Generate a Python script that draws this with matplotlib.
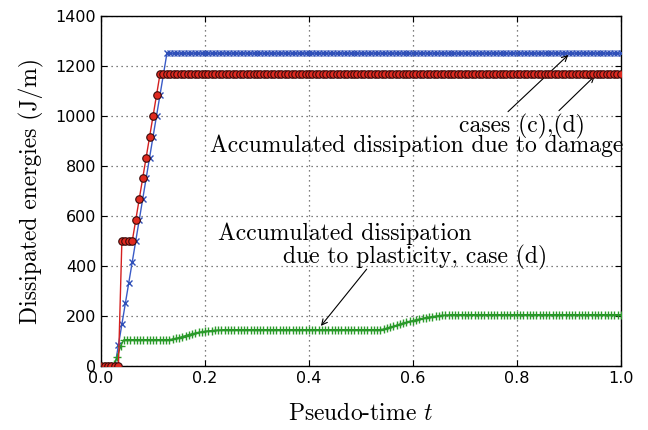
import numpy as np
import matplotlib
matplotlib.use("Agg")
import matplotlib.pyplot as plt

plt.rcParams['mathtext.fontset'] = 'cm'

# ---- data ----
# damage dissipation, case (c) (blue, x markers), time step 1/150
blue_dt = 1.0 / 150
blue_vals = ([0.0] * 5
             + [83, 167, 250, 333, 417, 500, 583, 667, 750, 833, 917, 1000, 1083, 1167]
             + [1250] * 132)

# damage dissipation, case (d) (red, circle markers), time step 1/150
red_dt = 1.0 / 150
red_vals = ([0.0] * 6
            + [500, 500, 500, 500]
            + [583, 667, 750, 833, 917, 1000, 1083]
            + [1167] * 134)

# plastic dissipation, case (d) (green, + markers), time step 1/160
green_dt = 1.0 / 160
green_vals = ([0.0] * 4
              + [8, 35, 80, 104]
              + [105] * 14
              + [107, 110, 113, 117, 121, 125, 128, 131, 134, 136, 138, 140, 141, 142, 143, 144]
              + [145] * 49
              + [147, 150, 154, 158, 162, 166, 170, 174, 178, 181, 184, 187, 190, 193,
                 195, 197, 199, 201, 202, 203, 204]
              + [205] * 53)

x_ticks = [0.0, 0.2, 0.4, 0.6, 0.8, 1.0]
y_ticks = [0, 200, 400, 600, 800, 1000, 1200, 1400]

t_blue = np.arange(len(blue_vals)) * blue_dt
t_red = np.arange(len(red_vals)) * red_dt
t_green = np.arange(len(green_vals)) * green_dt

fig = plt.figure(figsize=(6.48, 4.30), dpi=100)
ax = fig.add_axes([0.156, 0.149, 0.802, 0.814])

ax.plot(t_blue, blue_vals, color='#3a5bc7', lw=1.0, marker='x', ms=4.5, mew=1.0,
        mec='#3050b8', zorder=3)
ax.plot(t_red, red_vals, color='#d42020', lw=1.0, marker='o', ms=5.4, mew=0.8,
        mfc='#e02a20', mec='#3a0a0a', zorder=4)
ax.plot(t_green, green_vals, color='#1f8f1f', lw=1.0, marker='+', ms=6, mew=1.0,
        mec='#2a9a2a', zorder=3)

ax.set_xlim(0, 1.0)
ax.set_ylim(0, 1400)
ax.set_xticks(x_ticks)
ax.set_yticks(y_ticks)
ax.tick_params(direction='in', top=True, right=True, labelsize=11.5, length=4)
ax.grid(True, linestyle=(0, (1, 3)), color='#555555', lw=0.9)
for s in ax.spines.values():
    s.set_linewidth(1.0)

serif = 'cmr10'
fs = 17
ax.set_xlabel(r'Pseudo-time $t$', family=serif, fontsize=fs, labelpad=12)
ax.set_ylabel('Dissipated energies (J/m)', family=serif, fontsize=fs, labelpad=8)

ax.text(0.81, 956, 'cases (c),(d)', family=serif, fontsize=fs, ha='center', va='center')
ax.text(0.608, 880, 'Accumulated dissipation due to damage', family=serif, fontsize=fs,
        ha='center', va='center')
ax.text(0.469, 528, 'Accumulated dissipation', family=serif, fontsize=fs,
        ha='center', va='center')
ax.text(0.604, 432, 'due to plasticity, case (d)', family=serif, fontsize=fs,
        ha='center', va='center')

arrow = dict(arrowstyle='->', color='black', lw=0.8, shrinkA=0, shrinkB=0)
ax.annotate('', xy=(0.899, 1244), xytext=(0.783, 1017), arrowprops=arrow)
ax.annotate('', xy=(0.950, 1160), xytext=(0.881, 1021), arrowprops=arrow)
ax.annotate('', xy=(0.423, 160), xytext=(0.511, 387), arrowprops=arrow)

fig.savefig('out.png', dpi=100)
